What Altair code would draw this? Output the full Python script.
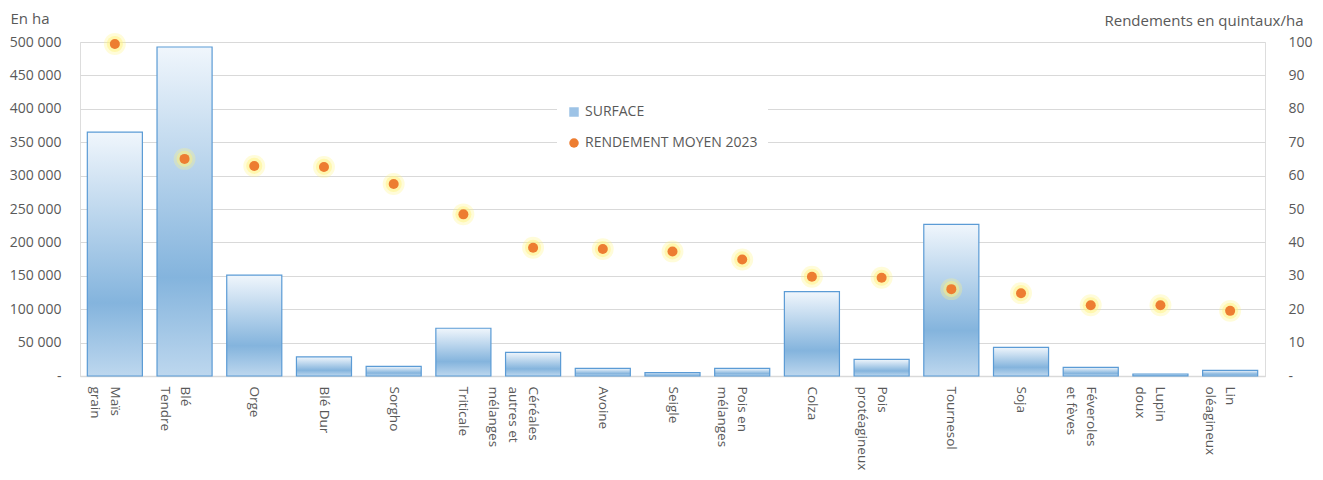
import altair as alt
import pandas as pd

CULTURES = ["Maïs|grain", "Blé|Tendre", "Orge", "Blé Dur", "Sorgho", "Triticale",
            "Céréales|autres et|mélanges", "Avoine", "Seigle", "Pois en|mélanges", "Colza",
            "Pois|protéagineux", "Tournesol", "Soja", "Féveroles|et fèves", "Lupin|doux",
            "Lin|oléagineux"]
SURFACE = [365000, 492500, 151000, 28500, 14500, 71500, 35500, 11500, 5000, 11500,
           126200, 25000, 227000, 43000, 13000, 3000, 8500]
RENDEMENT = [99.4, 65.0, 62.9, 62.6, 57.5, 48.4, 38.4, 38.0, 37.3, 34.9,
             29.7, 29.4, 26.0, 24.8, 21.2, 21.2, 19.5]
SERIES = ["SURFACE", "RENDEMENT MOYEN 2023"]
LEFT_TICKS = list(range(0, 500001, 50000))
RIGHT_TICKS = list(range(0, 101, 10))

df = pd.DataFrame({"culture": CULTURES, "surface": SURFACE, "rendement": RENDEMENT})

TXT = "#595959"
GRID = "#d9d9d9"
FONT = "Open Sans"

x = alt.X("culture:N", sort=CULTURES,
          scale=alt.Scale(paddingInner=0.21, paddingOuter=0.105),
          axis=alt.Axis(title=None, labelAngle=90, labelAlign="left", labelBaseline="middle",
                        labelPadding=10, labelExpr="split(datum.value, '|')", ticks=False,
                        domainColor=GRID, domainWidth=1.5, labelFontSize=13.5, labelColor=TXT,
                        labelLineHeight=20, labelOverlap=False, labelFont=FONT))

bars = alt.Chart(df).mark_bar(
    color=alt.Gradient(gradient="linear",
                       stops=[alt.GradientStop(color="#f0f6fc", offset=0),
                              alt.GradientStop(color="#84b4dd", offset=0.7),
                              alt.GradientStop(color="#bdd7ee", offset=1)],
                       x1=0, x2=0, y1=0, y2=1),
    stroke="#5b9bd5", strokeWidth=1.2
).encode(
    x=x,
    y=alt.Y("surface:Q", scale=alt.Scale(domain=[0, 500000], nice=False),
            axis=alt.Axis(values=LEFT_TICKS, title="En ha", titleAngle=0, titleAlign="left",
                          titleBaseline="middle", titleX=-70, titleY=-24,
                          titleFontWeight="normal", titleFontSize=15, titleColor=TXT,
                          titleFont=FONT,
                          labelExpr="datum.value == 0 ? '-' : replace(format(datum.value, ','), ',', ' ')",
                          labelFontSize=14, labelColor=TXT, labelPadding=19, labelFont=FONT,
                          ticks=False, domain=False, grid=True, gridColor=GRID, gridWidth=1.2))
)

yr = alt.Y("rendement:Q", scale=alt.Scale(domain=[0, 100], nice=False),
           axis=alt.Axis(orient="right", values=RIGHT_TICKS, grid=False, ticks=False, domain=False,
                         labelExpr="datum.value == 0 ? '-' : datum.value",
                         labelAlign="left", labelPadding=23, labelFontSize=14, labelColor=TXT,
                         labelFont=FONT,
                         title="Rendements en quintaux/ha", titleAngle=0, titleAlign="right",
                         titleBaseline="middle", titleX=38, titleY=-22, titleFontWeight="normal",
                         titleFontSize=15, titleColor=TXT, titleFont=FONT))

base_r = alt.Chart(df).encode(x=x, y=yr)
glow1 = base_r.mark_point(filled=True, size=480, color="#fff480", opacity=0.3)
glow2 = base_r.mark_point(filled=True, size=260, color="#fff27a", opacity=0.45)
dots = base_r.mark_point(filled=True, size=100, color="#ED7D31", opacity=1)

leg = alt.Legend(title=None, orient="none", legendX=477, legendY=53, fillColor="white",
                 padding=10, rowPadding=17, labelFontSize=14, labelColor=TXT, labelFont=FONT,
                 symbolSize=90, symbolOpacity=1, symbolStrokeWidth=0, labelOffset=4,
                 labelLimit=400)

legend_layer = base_r.transform_fold(["surface", "rendement"], as_=["serie", "v"]).transform_calculate(
    serie_label=f"datum.serie == 'surface' ? '{SERIES[0]}' : '{SERIES[1]}'"
).mark_point(filled=True, opacity=0, size=1).encode(
    color=alt.Color("serie_label:N", scale=alt.Scale(domain=SERIES, range=["#9dc3e6", "#ED7D31"]),
                    legend=leg),
    shape=alt.Shape("serie_label:N", scale=alt.Scale(domain=SERIES, range=["square", "circle"]),
                    legend=leg),
)

right = alt.layer(glow1, glow2, dots, legend_layer)

chart = alt.layer(bars, right).resolve_scale(y="independent").properties(
    width=1185, height=334,
    autosize=alt.AutoSizeParams(type="none"),
    padding={"left": 72, "top": 34, "right": 50, "bottom": 96},
).configure_view(stroke=None).configure(font=FONT)

chart.save("out.html", embed_options={"renderer": "svg", "actions": False})
